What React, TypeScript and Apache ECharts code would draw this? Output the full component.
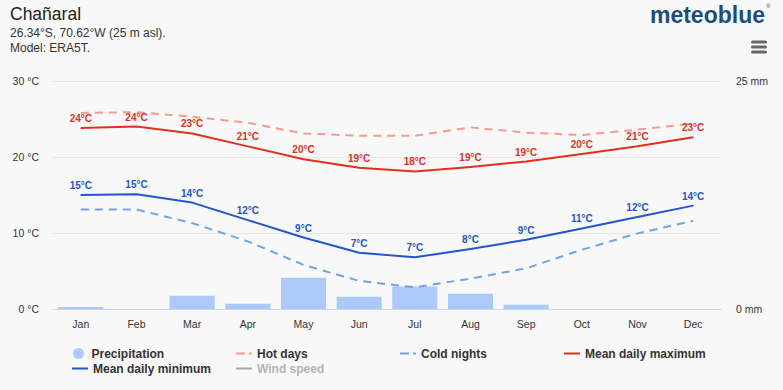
import React, { useEffect, useRef } from "react";
import * as echarts from "echarts";

const months = ["Jan", "Feb", "Mar", "Apr", "May", "Jun", "Jul", "Aug", "Sep", "Oct", "Nov", "Dec"];
const precipitation = [0.22, 0, 1.46, 0.58, 3.43, 1.35, 2.48, 1.68, 0.47, 0, 0, 0];
const hotDays = [25.8, 25.9, 25.3, 24.5, 23.1, 22.8, 22.8, 23.9, 23.2, 22.9, 23.6, 24.4];
const coldNights = [13.1, 13.1, 11.3, 8.9, 5.8, 3.7, 2.85, 4.0, 5.35, 7.8, 9.95, 11.6];
const meanMax = [23.8, 24.0, 23.1, 21.4, 19.7, 18.6, 18.1, 18.7, 19.4, 20.4, 21.4, 22.6];
const meanMin = [15.0, 15.1, 14.0, 11.7, 9.4, 7.4, 6.8, 7.9, 9.1, 10.6, 12.1, 13.6];
const windSpeed: number[] = [];
const tempTicks = { min: 0, max: 30, interval: 10 };
const precipTicks = { min: 0, max: 25, interval: 25 };

const FONT = "'Liberation Sans', Arial, Helvetica, sans-serif";
const C_MAX = "#e2301b";
const C_MIN = "#2355cf";
const C_HOT = "#f99a8b";
const C_COLD = "#6ea5ea";
const C_BAR = "#abcafb";
const C_WIND = "#a8a8a8";

const dashIcon = "path://M0,0h9v2h-9zM13,0h3v2h-3z";

export default function App() {
  const ref = useRef<HTMLDivElement>(null);
  useEffect(() => {
    document.body.style.margin = "0";
    const chart = echarts.init(ref.current!, null, { renderer: "svg" });
    const legendBase = {
      orient: "horizontal",
      padding: 0,
      itemWidth: 16,
      selectedMode: false,
      itemStyle: { borderWidth: 0 },
      textStyle: { fontSize: 12, fontWeight: "bold", color: "#333333", fontFamily: FONT },
    };
    const labelFmt = (p: any) => Math.round(p.value) + "°C";
    chart.setOption({
      animation: false,
      backgroundColor: "#f8f8f8",
      textStyle: { fontFamily: FONT },
      grid: { left: 53, right: 62, top: 81, bottom: 81, containLabel: false },
      legend: [
        { ...legendBase, data: [{ name: "Precipitation", icon: "circle" }], left: 73, top: 347.5, itemHeight: 11 },
        { ...legendBase, data: [{ name: "Hot days", icon: dashIcon }], left: 236, top: 347.5, itemHeight: 2 },
        { ...legendBase, data: [{ name: "Cold nights", icon: dashIcon }], left: 400, top: 347.5, itemHeight: 2 },
        { ...legendBase, data: [{ name: "Mean daily maximum", icon: "rect" }], left: 564, top: 347.5, itemHeight: 2 },
        { ...legendBase, data: [{ name: "Mean daily minimum", icon: "rect" }], left: 72, top: 362.5, itemHeight: 2 },
        {
          ...legendBase,
          data: [{ name: "Wind speed", icon: "rect" }],
          left: 236,
          top: 362.5,
          itemHeight: 2,
          textStyle: { ...legendBase.textStyle, color: "#b3b3b3" },
        },
      ],
      xAxis: {
        type: "category",
        data: months,
        boundaryGap: true,
        axisLine: { lineStyle: { color: "#ccd6eb", width: 1 } },
        axisTick: { show: false },
        axisLabel: { color: "#333333", fontSize: 10.5, margin: 9, fontFamily: FONT },
        splitLine: { show: false },
      },
      yAxis: [
        {
          type: "value",
          min: tempTicks.min,
          max: tempTicks.max,
          interval: tempTicks.interval,
          axisLine: { show: false },
          axisTick: { show: false },
          axisLabel: { formatter: "{value} °C", color: "#333333", fontSize: 10.5, margin: 14, fontFamily: FONT },
          splitLine: { lineStyle: { color: "#e6e6e6", width: 1 } },
        },
        {
          type: "value",
          min: precipTicks.min,
          max: precipTicks.max,
          interval: precipTicks.interval,
          position: "right",
          axisLine: { show: false },
          axisTick: { show: false },
          axisLabel: { formatter: "{value} mm", color: "#333333", fontSize: 10.5, margin: 15, fontFamily: FONT },
          splitLine: { show: false },
        },
      ],
      series: [
        {
          name: "Precipitation",
          type: "bar",
          yAxisIndex: 1,
          data: precipitation,
          barWidth: "81%",
          color: C_BAR,
          itemStyle: { color: C_BAR },
          z: 1,
        },
        {
          name: "Hot days",
          type: "line",
          data: hotDays,
          color: C_HOT,
          symbol: "none",
          itemStyle: { color: C_HOT },
          lineStyle: { color: C_HOT, width: 2, type: [8, 6] },
          z: 2,
        },
        {
          name: "Cold nights",
          type: "line",
          data: coldNights,
          color: C_COLD,
          symbol: "none",
          itemStyle: { color: C_COLD },
          lineStyle: { color: C_COLD, width: 2, type: [8, 6] },
          z: 2,
        },
        {
          name: "Mean daily maximum",
          type: "line",
          data: meanMax,
          color: C_MAX,
          symbol: "circle",
          symbolSize: 1,
          showSymbol: true,
          itemStyle: { color: C_MAX },
          lineStyle: { color: C_MAX, width: 2 },
          label: {
            show: true,
            position: "top",
            distance: 4,
            formatter: labelFmt,
            color: C_MAX,
            fontSize: 10,
            fontWeight: "bold",
            fontFamily: FONT,
          },
          z: 3,
        },
        {
          name: "Mean daily minimum",
          type: "line",
          data: meanMin,
          color: C_MIN,
          symbol: "circle",
          symbolSize: 1,
          showSymbol: true,
          itemStyle: { color: C_MIN },
          lineStyle: { color: C_MIN, width: 2 },
          label: {
            show: true,
            position: "top",
            distance: 4,
            formatter: labelFmt,
            color: C_MIN,
            fontSize: 10,
            fontWeight: "bold",
            fontFamily: FONT,
          },
          z: 3,
        },
        {
          name: "Wind speed",
          type: "line",
          data: windSpeed,
          color: C_WIND,
          symbol: "none",
          itemStyle: { color: C_WIND },
          lineStyle: { color: C_WIND, width: 2 },
        },
      ],
      graphic: [
        {
          type: "text",
          x: 10,
          y: 14,
          style: {
            text: "Chañaral",
            fontSize: 17.5,
            fontFamily: FONT,
            fill: "#222222",
            textAlign: "left",
            textVerticalAlign: "middle",
          },
        },
        {
          type: "text",
          x: 10,
          y: 33,
          style: {
            text: "26.34°S, 70.62°W (25 m asl).",
            fontSize: 12,
            fontFamily: FONT,
            fill: "#333333",
            textAlign: "left",
            textVerticalAlign: "middle",
          },
        },
        {
          type: "text",
          x: 10,
          y: 47.5,
          style: {
            text: "Model: ERA5T.",
            fontSize: 12,
            fontFamily: FONT,
            fill: "#333333",
            textAlign: "left",
            textVerticalAlign: "middle",
          },
        },
        {
          type: "text",
          x: 765,
          y: 15,
          style: {
            text: "meteoblue",
            fontSize: 23,
            fontWeight: "bold",
            fontFamily: FONT,
            fill: "#1d4d7b",
            textAlign: "right",
            textVerticalAlign: "middle",
          },
        },
        {
          type: "text",
          x: 766,
          y: 6,
          style: {
            text: "®",
            fontSize: 6,
            fontFamily: FONT,
            fill: "#1d4d7b",
            textAlign: "left",
            textVerticalAlign: "middle",
          },
        },
        { type: "rect", shape: { x: 751, y: 40.5, width: 16, height: 3, r: 1.5 }, style: { fill: "#666666" } },
        { type: "rect", shape: { x: 751, y: 45.5, width: 16, height: 3, r: 1.5 }, style: { fill: "#666666" } },
        { type: "rect", shape: { x: 751, y: 50.5, width: 16, height: 3, r: 1.5 }, style: { fill: "#666666" } },
      ],
    });
    return () => chart.dispose();
  }, []);
  return <div ref={ref} style={{ width: 783, height: 390 }} />;
}
